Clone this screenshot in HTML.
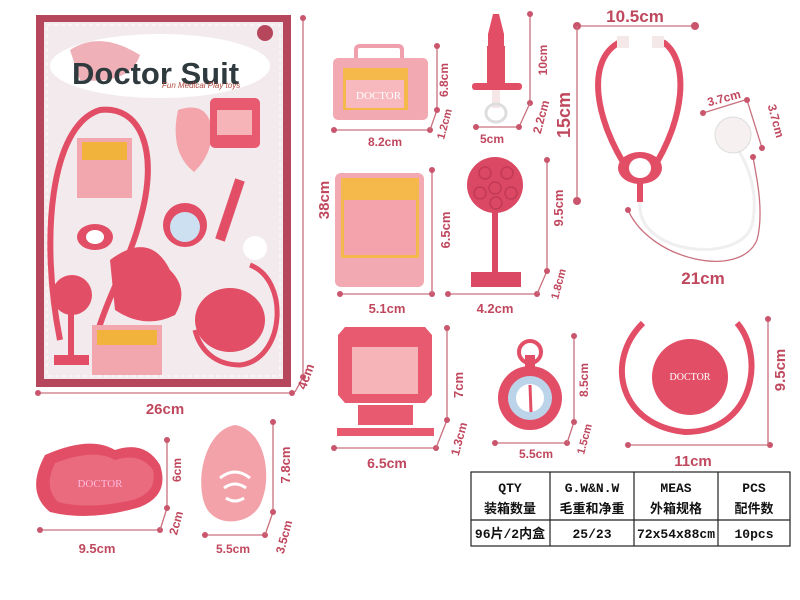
<!DOCTYPE html>
<html><head><meta charset="utf-8"><style>
html,body{margin:0;padding:0;background:#fff;}
svg{display:block}
.t{font-family:"Liberation Sans",sans-serif;font-weight:bold;fill:#c0485e;}
.d{stroke:#c9707e;stroke-width:1.3;fill:none}
.dot{fill:#c9566c}
.tb{font-family:"Liberation Mono","Noto Sans CJK SC",monospace;fill:#111;font-size:13px;text-anchor:middle;font-weight:bold}
</style></head><body>
<svg width="800" height="600" viewBox="0 0 800 600" xmlns="http://www.w3.org/2000/svg">
<!-- card -->
<rect x="36" y="15" width="255" height="372" fill="#b5465c"/>
<rect x="44" y="22" width="239" height="357" fill="#f2eaec"/>
<rect x="47" y="25" width="233" height="351" fill="none" stroke="#fff" stroke-dasharray="4 3"/>
<ellipse cx="160" cy="66" rx="110" ry="32" fill="#fff"/>
<path d="M70 50 q30 -20 70 5 q-10 30 -60 25z" fill="#f0b0b8"/>
<text x="72" y="84" font-family="Liberation Sans,sans-serif" font-weight="bold" font-size="31" fill="#2f3a3e">Doctor Suit</text>
<text x="162" y="88" font-family="Liberation Sans,sans-serif" font-style="italic" font-size="8" fill="#b04a40">Fun Medical Play toys</text>
<circle cx="265" cy="33" r="8" fill="#b5465c"/>
<!-- card items -->
<path d="M60 340 C40 240 50 125 100 110 C140 105 160 150 140 220 C130 260 110 290 95 340" fill="none" stroke="#e24e66" stroke-width="6"/>
<rect x="77" y="138" width="55" height="60" fill="#f2a7ae"/><rect x="82" y="142" width="45" height="18" fill="#f2b33c"/>
<ellipse cx="95" cy="237" rx="18" ry="13" fill="#e24e66"/><ellipse cx="95" cy="237" rx="9" ry="7" fill="#fff"/>
<path d="M178 110 q30 -10 34 20 q0 25 -18 42 q-25 -20 -16 -62z" fill="#f3a5ab"/>
<rect x="210" y="98" width="50" height="50" rx="5" fill="#e85a70"/><rect x="217" y="110" width="35" height="25" fill="#f6b3b8"/>
<circle cx="185" cy="225" r="22" fill="#e24e66"/><circle cx="185" cy="227" r="15" fill="#cde0f2"/>
<path d="M240 180 l-20 60" stroke="#e24e66" stroke-width="10"/>
<path d="M110 260 q40 -30 60 10 q20 20 5 45 q-30 15 -60 -5z" fill="#e24e66"/>
<path d="M250 265 C290 280 285 360 240 365 C215 365 200 350 195 330" fill="none" stroke="#e24e66" stroke-width="5"/>
<ellipse cx="230" cy="320" rx="35" ry="32" fill="#e24e66"/>
<circle cx="255" cy="248" r="12" fill="#fff"/>
<circle cx="72" cy="295" r="20" fill="#e24e66"/><rect x="68" y="310" width="6" height="45" fill="#e24e66"/><rect x="54" y="355" width="35" height="10" fill="#e24e66"/>
<rect x="92" y="325" width="70" height="50" fill="#f2a7ae"/><rect x="97" y="330" width="60" height="15" fill="#f2b33c"/>
<!-- card dims -->
<line class="d" x1="38" y1="393" x2="292" y2="393"/><circle class="dot" cx="38" cy="393" r="3"/><circle class="dot" cx="292" cy="393" r="3"/>
<text class="t" x="165" y="414" font-size="15" text-anchor="middle">26cm</text>
<line class="d" x1="303" y1="18" x2="303" y2="377"/><circle class="dot" cx="303" cy="18" r="3"/><circle class="dot" cx="303" cy="377" r="3"/><line class="d" x1="303" y1="377" x2="295" y2="392"/>
<text class="t" font-size="15" transform="translate(329,200) rotate(-90)" text-anchor="middle">38cm</text>
<text class="t" font-size="13" transform="translate(310,378) rotate(-70)" text-anchor="middle">4cm</text>
<!-- briefcase -->
<path d="M356 58 v-8 q0 -4 4 -4 h38 q4 0 4 4 v8" fill="none" stroke="#f0a0ac" stroke-width="4"/>
<rect x="333" y="58" width="95" height="62" rx="5" fill="#f3a9b1"/><rect x="343" y="68" width="65" height="42" fill="#f5b84a"/><rect x="346" y="80" width="58" height="28" fill="#f7b8be"/>
<text x="356" y="99" font-family="Liberation Serif,serif" font-size="11" fill="#fff">DOCTOR</text>
<line class="d" x1="334" y1="130" x2="430" y2="130"/><circle class="dot" cx="334" cy="130" r="3"/><circle class="dot" cx="430" cy="130" r="3"/>
<line class="d" x1="437" y1="46" x2="437" y2="110"/><line class="d" x1="437" y1="110" x2="430" y2="130"/><circle class="dot" cx="437" cy="46" r="3"/><circle class="dot" cx="437" cy="110" r="3"/>
<text class="t" x="385" y="146" font-size="12" text-anchor="middle">8.2cm</text>
<text class="t" font-size="12" transform="translate(448,80) rotate(-90)" text-anchor="middle">6.8cm</text>
<text class="t" font-size="11" transform="translate(448,125) rotate(-75)" text-anchor="middle">1.2cm</text>
<!-- syringe -->
<path d="M493 14 h6 l5 20 v12 h-16 v-12z" fill="#e24e66"/><rect x="487" y="46" width="18" height="38" fill="#e24e66"/><rect x="472" y="83" width="50" height="7" rx="3" fill="#e24e66"/>
<rect x="492" y="90" width="8" height="18" fill="#f6e6e8"/><ellipse cx="496" cy="113" rx="10" ry="9" fill="none" stroke="#ddd" stroke-width="3"/>
<line class="d" x1="530" y1="14" x2="530" y2="103"/><circle class="dot" cx="530" cy="14" r="3"/><circle class="dot" cx="530" cy="103" r="3"/><line class="d" x1="530" y1="103" x2="519" y2="127"/>
<line class="d" x1="476" y1="127" x2="519" y2="127"/><circle class="dot" cx="476" cy="127" r="3"/><circle class="dot" cx="519" cy="127" r="3"/>
<text class="t" x="492" y="143" font-size="12" text-anchor="middle">5cm</text>
<text class="t" font-size="12" transform="translate(547,60) rotate(-90)" text-anchor="middle">10cm</text>
<text class="t" font-size="12" transform="translate(545,118) rotate(-75)" text-anchor="middle">2.2cm</text>
<!-- stethoscope -->
<line class="d" x1="577" y1="26" x2="695" y2="26"/><circle class="dot" cx="577" cy="26" r="4"/><circle class="dot" cx="695" cy="26" r="4"/>
<text class="t" x="635" y="22" font-size="17" text-anchor="middle">10.5cm</text>
<line class="d" x1="577" y1="26" x2="577" y2="201"/><circle class="dot" cx="577" cy="201" r="4"/>
<text class="t" font-size="18" transform="translate(570,115) rotate(-90)" text-anchor="middle">15cm</text>
<path d="M620 42 C585 60 595 120 628 170 M663 42 C690 60 685 120 652 170" fill="none" stroke="#e24e66" stroke-width="6"/>
<rect x="617" y="36" width="12" height="12" fill="#f4e8e8"/><rect x="652" y="36" width="12" height="12" fill="#f4e8e8"/>
<ellipse cx="640" cy="168" rx="22" ry="16" fill="#e24e66"/><ellipse cx="640" cy="168" rx="11" ry="10" fill="#fff"/>
<rect x="637" y="182" width="6" height="20" fill="#e24e66"/>
<path d="M640 202 C635 255 740 265 752 225 C760 190 745 160 738 150" fill="none" stroke="#f0eeee" stroke-width="3"/>
<circle cx="733" cy="135" r="18" fill="#f6f0f0" stroke="#ddd"/>
<path class="d" d="M628 210 C650 260 740 280 757 240 C765 210 755 170 753 157"/>
<circle class="dot" cx="628" cy="210" r="3"/><circle class="dot" cx="753" cy="157" r="3"/>
<text class="t" x="703" y="284" font-size="17" text-anchor="middle">21cm</text>
<line class="d" x1="703" y1="113" x2="745" y2="100"/><line class="d" x1="747" y1="100" x2="762" y2="148"/><circle class="dot" cx="703" cy="113" r="3"/><circle class="dot" cx="747" cy="100" r="3"/><circle class="dot" cx="762" cy="148" r="3"/>
<text class="t" x="725" y="102" font-size="12" text-anchor="middle" transform="rotate(-15 725 102)">3.7cm</text>
<text class="t" font-size="12" transform="translate(772,122) rotate(75)" text-anchor="middle">3.7cm</text>
<!-- clipboard -->
<rect x="335" y="173" width="89" height="114" rx="6" fill="#f3a9b1"/><rect x="341" y="178" width="78" height="80" fill="#f5b84a"/><rect x="344" y="200" width="72" height="55" fill="#f4a2ac"/>
<line class="d" x1="340" y1="294" x2="432" y2="294"/><circle class="dot" cx="340" cy="294" r="3"/><circle class="dot" cx="432" cy="294" r="3"/><line class="d" x1="432" y1="170" x2="432" y2="294"/><circle class="dot" cx="432" cy="170" r="3"/>
<text class="t" x="387" y="313" font-size="13" text-anchor="middle">5.1cm</text>
<text class="t" font-size="13" transform="translate(450,230) rotate(-90)" text-anchor="middle">6.5cm</text>
<!-- hammer -->
<circle cx="495" cy="185" r="28" fill="#da4864"/><g fill="none" stroke="#c23a55" stroke-width="1.5"><circle cx="485" cy="173" r="6"/><circle cx="507" cy="173" r="6"/><circle cx="495" cy="188" r="6"/><circle cx="480" cy="193" r="6"/><circle cx="511" cy="193" r="6"/><circle cx="496" cy="203" r="6"/></g>
<rect x="492" y="212" width="6" height="62" fill="#da4864"/><rect x="471" y="272" width="50" height="15" fill="#da4864"/>
<line class="d" x1="448" y1="294" x2="537" y2="294"/><circle class="dot" cx="448" cy="294" r="3"/><circle class="dot" cx="537" cy="294" r="3"/><line class="d" x1="547" y1="160" x2="547" y2="271"/><line class="d" x1="547" y1="271" x2="537" y2="294"/><circle class="dot" cx="547" cy="160" r="3"/><circle class="dot" cx="547" cy="271" r="3"/>
<text class="t" x="495" y="313" font-size="13" text-anchor="middle">4.2cm</text>
<text class="t" font-size="13" transform="translate(563,208) rotate(-90)" text-anchor="middle">9.5cm</text>
<text class="t" font-size="11" transform="translate(562,285) rotate(-75)" text-anchor="middle">1.8cm</text>
<!-- monitor -->
<path d="M345 327 h80 l7 8 v60 l-7 8 h-80 l-7 -8 v-60z" fill="#e85a70"/><rect x="352" y="347" width="66" height="47" fill="#f6b3b8"/>
<path d="M358 405 h55 v20 h-55z" fill="#e85a70"/><rect x="337" y="428" width="97" height="8" fill="#e85a70"/>
<line class="d" x1="334" y1="448" x2="436" y2="448"/><circle class="dot" cx="334" cy="448" r="3"/><circle class="dot" cx="436" cy="448" r="3"/><line class="d" x1="447" y1="328" x2="447" y2="420"/><line class="d" x1="447" y1="420" x2="436" y2="448"/><circle class="dot" cx="447" cy="328" r="3"/><circle class="dot" cx="447" cy="420" r="3"/>
<text class="t" x="387" y="468" font-size="14" text-anchor="middle">6.5cm</text>
<text class="t" font-size="13" transform="translate(463,385) rotate(-90)" text-anchor="middle">7cm</text>
<text class="t" font-size="12" transform="translate(463,440) rotate(-75)" text-anchor="middle">1.3cm</text>
<!-- compass -->
<circle cx="530" cy="352" r="11" fill="none" stroke="#e24e66" stroke-width="4"/><rect x="525" y="355" width="10" height="13" fill="#e24e66"/>
<circle cx="530" cy="398" r="32" fill="#e24e66"/><circle cx="530" cy="398" r="22" fill="#bcd4ea"/><circle cx="530" cy="398" r="14" fill="#fff"/><line x1="530" y1="385" x2="531" y2="412" stroke="#e24e66" stroke-width="3"/>
<line class="d" x1="495" y1="443" x2="567" y2="443"/><circle class="dot" cx="495" cy="443" r="3"/><circle class="dot" cx="567" cy="443" r="3"/><line class="d" x1="574" y1="336" x2="574" y2="422"/><line class="d" x1="574" y1="422" x2="567" y2="443"/><circle class="dot" cx="574" cy="336" r="3"/><circle class="dot" cx="574" cy="422" r="3"/>
<text class="t" x="536" y="458" font-size="12" text-anchor="middle">5.5cm</text>
<text class="t" font-size="12" transform="translate(588,380) rotate(-90)" text-anchor="middle">8.5cm</text>
<text class="t" font-size="11" transform="translate(588,440) rotate(-75)" text-anchor="middle">1.5cm</text>
<!-- basin ring -->
<path d="M643 323 C605 360 618 425 685 432 C755 432 765 355 737 323" fill="none" stroke="#e24e66" stroke-width="6"/>
<circle cx="690" cy="377" r="38" fill="#e24e66"/>
<text x="690" y="380" font-family="Liberation Serif,serif" font-size="10" fill="#fff" text-anchor="middle">DOCTOR</text>
<line class="d" x1="628" y1="445" x2="770" y2="445"/><circle class="dot" cx="628" cy="445" r="3"/><circle class="dot" cx="770" cy="445" r="3"/><line class="d" x1="768" y1="319" x2="768" y2="445"/><circle class="dot" cx="768" cy="319" r="3"/>
<text class="t" x="693" y="466" font-size="15" text-anchor="middle">11cm</text>
<text class="t" font-size="15" transform="translate(785,370) rotate(-90)" text-anchor="middle">9.5cm</text>
<!-- kidney basin -->
<path d="M45 455 q45 -20 70 -5 q30 -10 45 15 q10 30 -20 42 q-50 15 -90 5 q-25 -20 -5 -57z" fill="#e24e66"/>
<path d="M55 463 q40 -15 60 -3 q25 -8 38 10 q5 22 -20 30 q-45 10 -75 2 q-15 -15 -3 -39z" fill="#ea6a7e"/>
<text x="100" y="487" font-family="Liberation Serif,serif" font-size="11" fill="#fbd" text-anchor="middle">DOCTOR</text>
<line class="d" x1="40" y1="530" x2="160" y2="530"/><circle class="dot" cx="40" cy="530" r="3"/><circle class="dot" cx="160" cy="530" r="3"/><line class="d" x1="167" y1="440" x2="167" y2="508"/><line class="d" x1="167" y1="508" x2="160" y2="530"/><circle class="dot" cx="167" cy="440" r="3"/><circle class="dot" cx="167" cy="508" r="3"/>
<text class="t" x="97" y="553" font-size="13" text-anchor="middle">9.5cm</text>
<text class="t" font-size="12" transform="translate(181,470) rotate(-90)" text-anchor="middle">6cm</text>
<text class="t" font-size="12" transform="translate(180,524) rotate(-75)" text-anchor="middle">2cm</text>
<!-- bell -->
<path d="M235 425 C265 430 272 475 262 500 C255 525 215 530 205 505 C195 480 205 430 235 425z" fill="#f4a2aa"/>
<path d="M220 478 q15 -12 30 0 M224 488 q11 -8 22 0 M226 498 q9 6 18 0" stroke="#fff" stroke-width="3" fill="none"/>
<line class="d" x1="205" y1="535" x2="265" y2="535"/><circle class="dot" cx="205" cy="535" r="3"/><circle class="dot" cx="265" cy="535" r="3"/><line class="d" x1="273" y1="422" x2="273" y2="512"/><line class="d" x1="273" y1="512" x2="265" y2="535"/><circle class="dot" cx="273" cy="422" r="3"/><circle class="dot" cx="273" cy="512" r="3"/>
<text class="t" x="233" y="553" font-size="12" text-anchor="middle">5.5cm</text>
<text class="t" font-size="13" transform="translate(290,465) rotate(-90)" text-anchor="middle">7.8cm</text>
<text class="t" font-size="12" transform="translate(288,538) rotate(-75)" text-anchor="middle">3.5cm</text>
<!-- table -->
<g stroke="#222" stroke-width="1.2" fill="none"><rect x="471" y="472" width="319" height="74"/><line x1="471" y1="520" x2="790" y2="520"/><line x1="550" y1="472" x2="550" y2="546"/><line x1="634" y1="472" x2="634" y2="546"/><line x1="718" y1="472" x2="718" y2="546"/></g>
<text class="tb" x="510" y="492">QTY</text><text class="tb" x="510" y="513" font-size="14">装箱数量</text>
<text class="tb" x="592" y="492">G.W&amp;N.W</text><text class="tb" x="592" y="513" font-size="14">毛重和净重</text>
<text class="tb" x="676" y="492">MEAS</text><text class="tb" x="676" y="513" font-size="14">外箱规格</text>
<text class="tb" x="754" y="492">PCS</text><text class="tb" x="754" y="513" font-size="14">配件数</text>
<text class="tb" x="510" y="538" font-size="11">96片/2内盒</text><text class="tb" x="592" y="538" font-size="13">25/23</text><text class="tb" x="676" y="538" font-size="9">72x54x88cm</text><text class="tb" x="754" y="538" font-size="13">10pcs</text>
</svg>
</body></html>
